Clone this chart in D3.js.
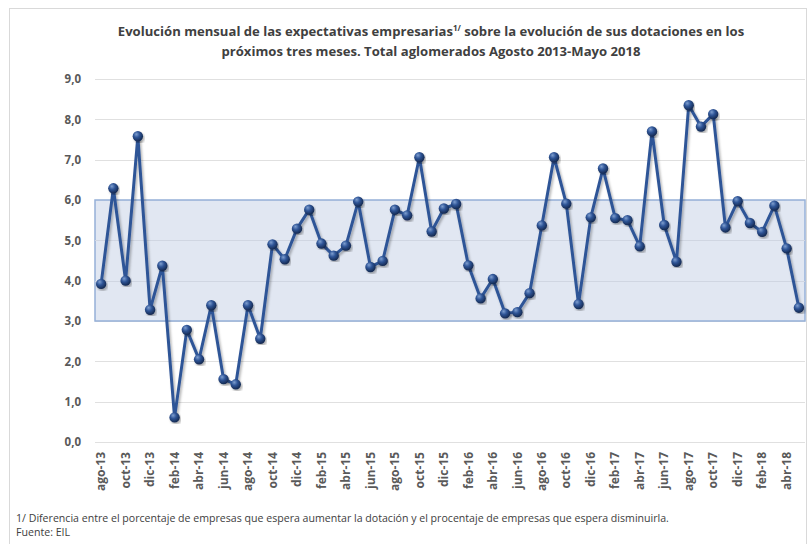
<!DOCTYPE html>
<html lang="es">
<head>
<meta charset="UTF-8" />
<title>Expectativas empresarias</title>
<script src="https://cdn.jsdelivr.net/npm/d3@7"></script>
<style>
  body { margin: 0; background: #fff; }
  text { font-family: "Open Sans", "Liberation Sans", sans-serif; }
</style>
</head>
<body>
<div id="chart"></div>
<script>
// months shown on the x axis (one point each)
var months = [
  "ago-13","sep-13","oct-13","nov-13","dic-13",
  "ene-14","feb-14","mar-14","abr-14","may-14","jun-14","jul-14","ago-14","sep-14","oct-14","nov-14","dic-14",
  "ene-15","feb-15","mar-15","abr-15","may-15","jun-15","jul-15","ago-15","sep-15","oct-15","nov-15","dic-15",
  "ene-16","feb-16","mar-16","abr-16","may-16","jun-16","jul-16","ago-16","sep-16","oct-16","nov-16","dic-16",
  "ene-17","feb-17","mar-17","abr-17","may-17","jun-17","jul-17","ago-17","sep-17","oct-17","nov-17","dic-17",
  "ene-18","feb-18","mar-18","abr-18","may-18"
];

// expectativa neta (%)
var values = [
  3.92, 6.29, 4.00, 7.58, 3.28,
  4.37, 0.61, 2.78, 2.05, 3.39, 1.56, 1.43, 3.39, 2.56, 4.90, 4.53, 5.29,
  5.76, 4.92, 4.62, 4.87, 5.96, 4.34, 4.49, 5.76, 5.62, 7.06, 5.22, 5.79,
  5.90, 4.38, 3.56, 4.04, 3.19, 3.22, 3.69, 5.37, 7.06, 5.91, 3.42, 5.57,
  6.78, 5.55, 5.50, 4.85, 7.70, 5.38, 4.47, 8.35, 7.82, 8.13, 5.32, 5.97,
  5.43, 5.21, 5.86, 4.80, 3.33
];

// shaded band range
var bandRange = [3, 6];

var yTicks = [0, 1, 2, 3, 4, 5, 6, 7, 8, 9];

var W = 811, H = 544;
var mLeft = 95, mRight = 805, mTop = 79, mBottom = 442;

var svg = d3.select("#chart").append("svg")
  .attr("width", W)
  .attr("height", H);

var defs = svg.append("defs");
var grad = defs.append("radialGradient")
  .attr("id", "ball")
  .attr("cx", "40%").attr("cy", "35%").attr("r", "65%")
  .attr("fx", "35%").attr("fy", "30%");
grad.append("stop").attr("offset", "0%").attr("stop-color", "#7f9fd0");
grad.append("stop").attr("offset", "45%").attr("stop-color", "#2f5597");
grad.append("stop").attr("offset", "100%").attr("stop-color", "#14284f");

var shadow = defs.append("filter").attr("id", "shadow")
  .attr("x", "-10%").attr("y", "-10%").attr("width", "120%").attr("height", "120%");
shadow.append("feDropShadow")
  .attr("dx", 1.5).attr("dy", 2).attr("stdDeviation", 1.2)
  .attr("flood-color", "#000").attr("flood-opacity", 0.3);

// outer frame
svg.append("rect")
  .attr("x", 9.5).attr("y", 8.5)
  .attr("width", 797).attr("height", 560)
  .attr("fill", "none")
  .attr("stroke", "#d9d9d9");

var x = d3.scaleBand().domain(months).range([mLeft, mRight]);
var y = d3.scaleLinear().domain([0, 9]).range([mBottom, mTop]);

// gridlines
svg.append("g").selectAll("line")
  .data(yTicks)
  .enter().append("line")
  .attr("x1", mLeft).attr("x2", mRight)
  .attr("y1", function(d) { return Math.round(y(d)) + 0.5; })
  .attr("y2", function(d) { return Math.round(y(d)) + 0.5; })
  .attr("stroke", "#e0e0e0");

// band 3-6
svg.append("rect")
  .attr("x", mLeft)
  .attr("y", y(bandRange[1]))
  .attr("width", mRight - mLeft)
  .attr("height", y(bandRange[0]) - y(bandRange[1]))
  .attr("fill", "#dce3f0")
  .attr("fill-opacity", 0.85)
  .attr("stroke", "#95b0d8")
  .attr("stroke-width", 1.5);

// gridlines again inside band, faint
svg.append("g").selectAll("line")
  .data(yTicks.filter(function(d) { return d > bandRange[0] && d < bandRange[1]; }))
  .enter().append("line")
  .attr("x1", mLeft).attr("x2", mRight)
  .attr("y1", function(d) { return Math.round(y(d)) + 0.5; })
  .attr("y2", function(d) { return Math.round(y(d)) + 0.5; })
  .attr("stroke", "#d0d6e2");

// y axis labels
var yAxis = d3.axisLeft(y)
  .tickValues(yTicks)
  .tickSize(0)
  .tickPadding(14)
  .tickFormat(function(d) { return d3.format(".1f")(d).replace(".", ","); });
var yg = svg.append("g")
  .attr("transform", "translate(" + mLeft + ",0)")
  .call(yAxis);
yg.select(".domain").remove();
yg.selectAll("text")
  .attr("fill", "#595959")
  .style("font-size", "11.5px")
  .style("font-weight", "bold");

// x axis labels (every other month)
var xAxis = d3.axisBottom(x)
  .tickValues(months.filter(function(d, i) { return i % 2 === 0; }))
  .tickSize(0)
  .tickPadding(0);
var xg = svg.append("g")
  .attr("transform", "translate(0," + mBottom + ")")
  .call(xAxis);
xg.select(".domain").remove();
xg.selectAll("text")
  .attr("transform", "rotate(-90)")
  .attr("x", -10)
  .attr("y", 0)
  .attr("dy", "0.35em")
  .attr("text-anchor", "end")
  .attr("fill", "#595959")
  .style("font-size", "12px")
  .style("font-weight", "bold");

// line
var line = d3.line()
  .x(function(d, i) { return x(months[i]) + x.bandwidth() / 2; })
  .y(function(d) { return y(d); });

svg.append("path")
  .datum(values)
  .attr("d", line)
  .attr("fill", "none")
  .attr("stroke", "#2f5597")
  .attr("stroke-width", 3)
  .attr("stroke-linejoin", "round")
  .attr("filter", "url(#shadow)");

svg.append("g").selectAll("circle")
  .data(values)
  .enter().append("circle")
  .attr("cx", function(d, i) { return x(months[i]) + x.bandwidth() / 2; })
  .attr("cy", function(d) { return y(d); })
  .attr("r", 5.2)
  .attr("fill", "url(#ball)")
  .attr("filter", "url(#shadow)");

// title
var title = svg.append("text")
  .attr("x", 431)
  .attr("y", 36)
  .attr("text-anchor", "middle")
  .attr("fill", "#404040")
  .style("font-size", "13.1px")
  .style("font-weight", "bold");
title.append("tspan").text("Evolución mensual de las expectativas empresarias");
title.append("tspan").attr("dy", -5).style("font-size", "8px").text("1/");
title.append("tspan").attr("dy", 5).text(" sobre la evolución de sus dotaciones en los");

svg.append("text")
  .attr("x", 431)
  .attr("y", 56)
  .attr("text-anchor", "middle")
  .attr("fill", "#404040")
  .style("font-size", "13.1px")
  .style("font-weight", "bold")
  .text("próximos tres meses. Total aglomerados Agosto 2013-Mayo 2018");

// notes
svg.append("text")
  .attr("x", 16).attr("y", 522)
  .attr("fill", "#404040")
  .style("font-size", "10.6px")
  .text("1/ Diferencia entre el porcentaje de empresas que espera aumentar la dotación y el procentaje de empresas que espera disminuirla.");
svg.append("text")
  .attr("x", 16).attr("y", 536)
  .attr("fill", "#404040")
  .style("font-size", "10.6px")
  .text("Fuente: EIL");
</script>
</body>
</html>
